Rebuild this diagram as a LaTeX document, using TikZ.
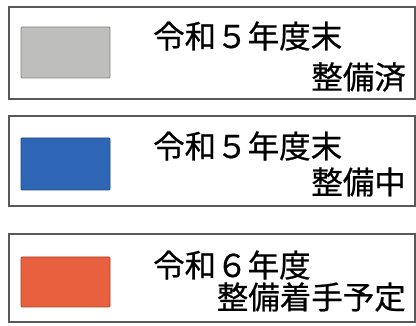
\documentclass[tikz,border=0pt]{standalone}
\usepackage{fontspec}
\setmainfont{Noto Sans CJK JP}[FakeBold=0.6]
\begin{document}
\begin{tikzpicture}[x=1pt,y=-1pt,
  frame/.style={draw=black!65,line width=1.1pt,fill=white},
  swatch/.style={draw=#1!70!black,line width=0.8pt,fill=#1,rounded corners=1pt},
  lab/.style={inner sep=0pt,font=\fontsize{31.5}{31.5}\selectfont,text=black}]
\definecolor{cgrey}{HTML}{BEBEBC}
\definecolor{cblue}{HTML}{2F66B5}
\definecolor{corange}{HTML}{E9603E}
\useasboundingbox (0,0) rectangle (416,326);
% legend 1
\draw[frame] (9,7) rectangle (415,99);
\draw[swatch=cgrey] (21,27) rectangle (110,78);
\node[lab,anchor=west] (t1a) at (153,36) {令和５年度末};
\node[lab,anchor=east] (t1b) at (406,77) {整備済};
% legend 2
\draw[frame] (9,116) rectangle (415,206);
\draw[swatch=cblue] (21,138) rectangle (110,190);
\node[lab,anchor=west] (t2a) at (153,146) {令和５年度末};
\node[lab,anchor=east] (t2b) at (406,182) {整備中};
% legend 3
\draw[frame] (9,234) rectangle (415,322);
\draw[swatch=corange] (21,257) rectangle (110,307);
\node[lab,anchor=west] (t3a) at (153,265) {令和６年度};
\node[lab,anchor=east] (t3b) at (406,297) {整備着手予定};
\end{tikzpicture}
\end{document}
